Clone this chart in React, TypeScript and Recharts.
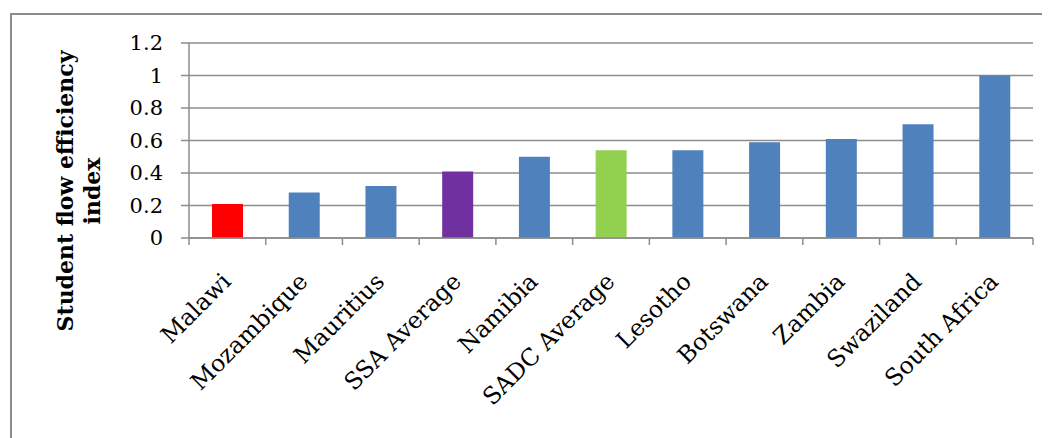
import { BarChart, Bar, XAxis, YAxis, CartesianGrid, Cell } from "recharts";

const countries = [
  "Malawi",
  "Mozambique",
  "Mauritius",
  "SSA Average",
  "Namibia",
  "SADC Average",
  "Lesotho",
  "Botswana",
  "Zambia",
  "Swaziland",
  "South Africa",
];
const efficiency = [0.21, 0.28, 0.32, 0.41, 0.5, 0.54, 0.54, 0.59, 0.61, 0.7, 1.0];
const barColors = [
  "#FF0000",
  "#4F81BD",
  "#4F81BD",
  "#7030A0",
  "#4F81BD",
  "#92D050",
  "#4F81BD",
  "#4F81BD",
  "#4F81BD",
  "#4F81BD",
  "#4F81BD",
];
const yTicks = [0, 0.2, 0.4, 0.6, 0.8, 1, 1.2];

const data = countries.map((name, i) => ({ name, value: efficiency[i], color: barColors[i] }));

const W = 1042;
const H = 430;
const LEFT = 181;
const RIGHT = 17;
const TOP = 35;
const BOTTOM = 200;
const BAND = (W - LEFT - RIGHT) / countries.length;
const FONT = "'DejaVu Serif', serif";
const GRID = "#8c8c8c";

// category label rotated 45deg, plus Excel-style ticks between categories
function CategoryTick(props: any) {
  const { x, y, payload, index } = props;
  const left = x - BAND / 2;
  return (
    <g>
      <line x1={left} y1={y - 8} x2={left} y2={y - 1} stroke={GRID} strokeWidth={1.5} />
      {index === countries.length - 1 && (
        <line x1={x + BAND / 2} y1={y - 8} x2={x + BAND / 2} y2={y - 1} stroke={GRID} strokeWidth={1.5} />
      )}
      <text
        transform={`translate(${x + 5}, ${y + 37}) rotate(-45)`}
        textAnchor="end"
        fontFamily={FONT}
        fontSize={23.5}
        fill="#000"
      >
        {payload.value}
      </text>
    </g>
  );
}

function AxisTitle() {
  return (
    <text
      transform="translate(0, 183) rotate(-90)"
      textAnchor="middle"
      fontFamily={FONT}
      fontWeight="bold"
      fontSize={22}
      fill="#000"
    >
      <tspan x={0} y={65}>Student flow efficiency</tspan>
      <tspan x={0} y={92}>index</tspan>
    </text>
  );
}

export default function App() {
  return (
    <div style={{ position: "relative", width: W, height: H, overflow: "hidden" }}>
      <div
        style={{
          position: "absolute",
          left: 2,
          top: 5,
          width: W + 20,
          height: H + 20,
          border: "2px solid #8c8c8c",
        }}
      />
      <div style={{ position: "absolute", left: 0, top: 0 }}>
        <BarChart
          width={W}
          height={H}
          data={data}
          margin={{ top: TOP, right: RIGHT, bottom: 0, left: 0 }}
          barSize={31}
        >
          <CartesianGrid vertical={false} stroke={GRID} strokeWidth={1.5} />
          <XAxis
            dataKey="name"
            interval={0}
            tickLine={false}
            axisLine={{ stroke: GRID, strokeWidth: 1.5 }}
            tick={<CategoryTick />}
            height={BOTTOM}
          />
          <YAxis
            width={LEFT}
            domain={[0, 1.2]}
            ticks={yTicks}
            tickSize={8}
            tickMargin={18}
            tickLine={{ stroke: GRID, strokeWidth: 1.5 }}
            axisLine={{ stroke: GRID, strokeWidth: 1.5 }}
            tick={{ fontFamily: FONT, fontSize: 21, fill: "#000" }}
            label={<AxisTitle />}
          />
          <Bar dataKey="value" isAnimationActive={false}>
            {data.map((d, i) => (
              <Cell key={`cell-${i}`} fill={d.color} />
            ))}
          </Bar>
        </BarChart>
      </div>
    </div>
  );
}
